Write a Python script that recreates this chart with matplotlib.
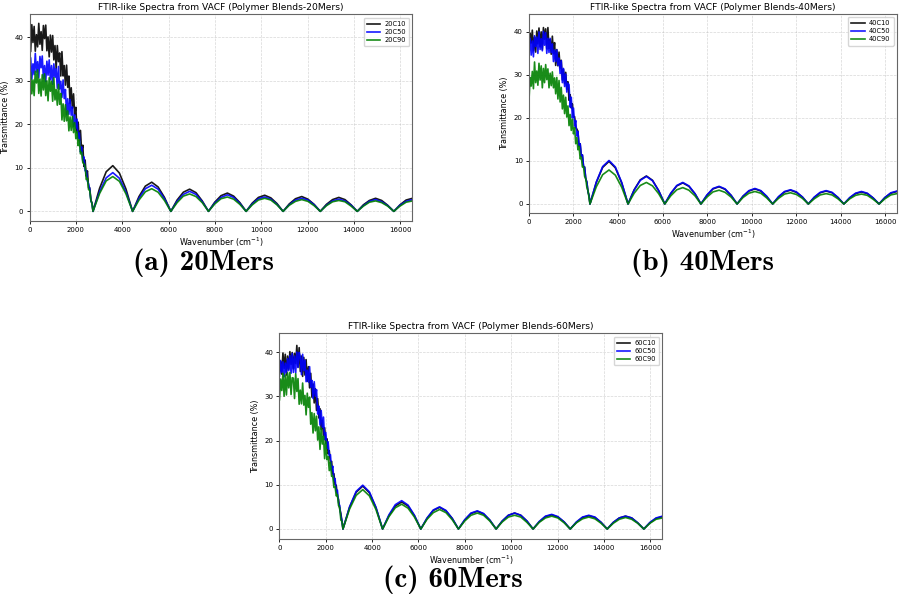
import numpy as np
import matplotlib
matplotlib.use("Agg")
import matplotlib.pyplot as plt

# wavenumber grid: noisy low-frequency part, then the lobes
wn_low = list(range(0, 2701, 50))
wn_lobes = [2740, 3025, 3310, 3595, 3880, 4165, 4450, 4725, 5000, 5275, 5550, 5825,
            6100, 6370, 6640, 6910, 7185, 7455, 7725, 7995, 8265, 8540, 8810, 9080,
            9350, 9615, 9880, 10150, 10415, 10680, 10945, 11210, 11480, 11750, 12015, 12285,
            12550, 12815, 13080, 13350, 13615, 13880, 14145, 14410, 14670, 14935, 15200, 15460,
            15725, 15990, 16255, 16530]

# 20Mers
t20c10_low = [41.4, 36.7, 42.9, 38.8, 42.5, 36.8, 40.6, 37.8, 43.2, 38.4, 41.3, 37.0, 42.7, 39.7,
              42.8, 36.9, 40.1, 35.5, 40.5, 36.6, 40.4, 34.8, 38.1, 32.8, 38.1, 34.4, 36.4, 31.1,
              36.7, 31.1, 33.5, 29.0, 33.6, 28.5, 31.1, 24.8, 28.4, 23.7, 27.0, 22.2, 23.9, 18.0,
              20.5, 16.2, 18.6, 13.7, 15.2, 10.3, 11.8, 8.1, 9.3, 5.4, 5.4, 2.6, 1.9]
t20c10_lobes = [0, 5.3, 9.1, 10.5, 8.8, 5.1, 0, 3.4, 5.8, 6.7, 5.6, 3.2, 0, 2.6, 4.4, 5.1, 4.3, 2.4,
                0, 2.1, 3.6, 4.2, 3.5, 2.0, 0, 1.9, 3.2, 3.7, 3.1, 1.8, 0, 1.7, 2.9, 3.4, 2.8, 1.6,
                0, 1.6, 2.7, 3.2, 2.7, 1.5, 0, 1.5, 2.5, 3.0, 2.5, 1.4, 0, 1.5, 2.6, 3.0]
t20c50_low = [32.2, 35.3, 30.4, 33.9, 31.4, 36.3, 32.0, 34.4, 30.7, 35.6, 33.0, 35.7, 30.6, 33.5,
              29.8, 34.5, 31.3, 34.8, 30.2, 33.5, 29.2, 33.9, 30.8, 32.8, 28.3, 33.3, 28.1, 29.9,
              26.2, 30.2, 25.9, 28.0, 22.2, 25.9, 22.3, 25.7, 22.1, 24.0, 19.5, 22.2, 19.1, 21.2,
              16.8, 18.0, 13.6, 14.8, 11.6, 12.5, 9.3, 9.4, 6.9, 6.3, 5.1, 2.4, 1.8]
t20c50_lobes = [0, 4.5, 7.7, 8.9, 7.6, 4.4, 0, 3.0, 5.2, 6.0, 5.1, 2.9, 0, 2.3, 3.9, 4.6, 3.9, 2.2,
                0, 1.9, 3.2, 3.8, 3.2, 1.8, 0, 1.7, 2.9, 3.3, 2.8, 1.6, 0, 1.5, 2.6, 3.0, 2.6, 1.5,
                0, 1.4, 2.4, 2.8, 2.4, 1.4, 0, 1.3, 2.3, 2.7, 2.2, 1.3, 0, 1.4, 2.3, 2.7]
t20c90_low = [27.4, 32.0, 27.0, 30.2, 26.6, 32.2, 29.5, 32.5, 27.1, 30.4, 26.5, 31.4, 27.9, 31.6,
              26.6, 30.0, 25.4, 30.7, 27.6, 29.9, 25.3, 30.7, 25.6, 28.0, 24.4, 29.2, 24.6, 27.1,
              21.0, 24.7, 20.7, 24.5, 20.8, 23.1, 18.5, 21.7, 18.6, 21.8, 18.1, 20.4, 16.7, 18.3,
              15.1, 16.4, 13.2, 13.6, 11.2, 10.9, 10.3, 7.3, 7.6, 5.0, 4.8, 2.5, 1.7]
t20c90_lobes = [0, 4.1, 7.0, 8.0, 6.9, 4.0, 0, 2.6, 4.5, 5.2, 4.4, 2.5, 0, 2.0, 3.5, 4.0, 3.4, 2.0,
                0, 1.7, 2.9, 3.3, 2.8, 1.6, 0, 1.5, 2.6, 3.0, 2.6, 1.5, 0, 1.4, 2.3, 2.7, 2.3, 1.3,
                0, 1.3, 2.2, 2.5, 2.2, 1.2, 0, 1.2, 2.1, 2.4, 2.0, 1.2, 0, 1.2, 2.1, 2.4]

# 40Mers
t40c10_low = [34.5, 39.7, 37.4, 40.4, 35.6, 38.8, 35.3, 40.2, 37.2, 40.9, 36.5, 40.0, 35.9, 41.0,
              38.3, 40.7, 36.1, 41.0, 36.1, 38.2, 34.8, 39.0, 34.9, 37.5, 32.2, 35.9, 32.1, 35.3,
              31.6, 33.4, 28.8, 31.3, 28.0, 30.6, 26.7, 28.4, 24.1, 25.4, 22.3, 23.3, 20.2, 20.3,
              17.8, 17.4, 16.9, 13.4, 14.0, 11.1, 11.4, 8.7, 8.6, 5.8, 5.1, 2.9, 1.9]
t40c10_lobes = [0, 5.0, 8.5, 9.9, 8.4, 4.9, 0, 3.3, 5.6, 6.5, 5.5, 3.1, 0, 2.4, 4.2, 4.9, 4.1, 2.4,
                0, 2.0, 3.5, 4.0, 3.4, 2.0, 0, 1.8, 3.0, 3.5, 3.0, 1.7, 0, 1.6, 2.8, 3.2, 2.7, 1.6,
                0, 1.5, 2.6, 3.0, 2.6, 1.5, 0, 1.4, 2.4, 2.8, 2.4, 1.4, 0, 1.5, 2.5, 2.9]
t40c50_low = [35.0, 38.5, 34.6, 37.9, 34.2, 39.1, 36.6, 38.8, 35.0, 40.0, 35.9, 38.4, 35.6, 40.1,
              36.9, 39.8, 35.0, 38.5, 35.2, 38.5, 35.2, 37.2, 33.1, 35.8, 33.1, 35.8, 32.3, 33.9,
              30.3, 33.3, 28.2, 31.5, 27.3, 30.2, 26.0, 28.1, 27.7, 22.5, 24.8, 20.0, 22.3, 18.1,
              19.4, 15.8, 16.8, 13.5, 14.0, 11.1, 11.4, 8.8, 8.5, 5.9, 5.1, 2.9, 1.9]
t40c50_lobes = [0, 5.1, 8.7, 10.1, 8.6, 5.0, 0, 3.2, 5.5, 6.4, 5.4, 3.1, 0, 2.5, 4.3, 5.0, 4.2, 2.4,
                0, 2.1, 3.6, 4.1, 3.5, 2.0, 0, 1.8, 3.1, 3.6, 3.1, 1.8, 0, 1.7, 2.9, 3.3, 2.8, 1.6,
                0, 1.6, 2.7, 3.1, 2.7, 1.5, 0, 1.5, 2.5, 2.9, 2.5, 1.4, 0, 1.5, 2.6, 3.0]
t40c90_low = [24.0, 29.4, 27.4, 30.8, 26.8, 33.0, 28.2, 30.9, 27.6, 32.7, 28.8, 32.1, 27.0, 31.5,
              28.2, 32.4, 28.9, 31.4, 27.0, 30.4, 27.5, 30.7, 27.0, 29.3, 25.6, 29.4, 24.4, 28.7,
              23.7, 27.1, 22.1, 25.3, 21.0, 24.8, 20.2, 22.8, 18.2, 20.8, 17.1, 19.7, 16.3, 17.7,
              14.0, 15.4, 12.6, 13.4, 10.5, 10.9, 8.6, 8.7, 6.4, 5.9, 3.9, 3.1, 1.4]
t40c90_lobes = [0, 4.0, 6.8, 7.9, 6.7, 3.9, 0, 2.5, 4.3, 5.0, 4.2, 2.4, 0, 1.9, 3.3, 3.8, 3.2, 1.9,
                0, 1.6, 2.8, 3.2, 2.7, 1.6, 0, 1.5, 2.5, 2.9, 2.5, 1.4, 0, 1.3, 2.3, 2.6, 2.2, 1.3,
                0, 1.2, 2.1, 2.4, 2.1, 1.2, 0, 1.2, 2.0, 2.3, 2.0, 1.1, 0, 1.2, 2.1, 2.4]

# 60Mers
t60c10_low = [35.3, 37.9, 35.0, 39.8, 36.3, 39.5, 34.8, 39.1, 36.1, 40.1, 37.2, 39.9, 36.2, 39.7,
              37.4, 41.5, 36.6, 41.0, 35.6, 39.1, 34.5, 38.8, 34.8, 38.3, 33.4, 36.7, 31.9, 35.2,
              29.8, 32.8, 28.5, 31.7, 26.8, 29.5, 25.1, 27.2, 22.5, 24.6, 21.1, 22.9, 19.4, 20.4,
              17.0, 17.7, 14.9, 15.3, 12.4, 12.5, 10.0, 9.9, 7.4, 6.7, 4.5, 3.5, 1.6]
t60c10_lobes = [0, 4.9, 8.3, 9.7, 8.2, 4.8, 0, 3.0, 5.2, 6.1, 5.2, 3.0, 0, 2.4, 4.2, 4.9, 4.1, 2.4,
                0, 2.0, 3.5, 4.0, 3.4, 2.0, 0, 1.8, 3.1, 3.6, 3.1, 1.8, 0, 1.6, 2.8, 3.2, 2.7, 1.6,
                0, 1.5, 2.6, 3.0, 2.6, 1.5, 0, 1.5, 2.5, 2.9, 2.5, 1.4, 0, 1.4, 2.4, 2.8]
t60c50_low = [34.5, 38.1, 35.4, 37.8, 34.4, 37.5, 35.3, 38.5, 35.8, 39.2, 35.2, 39.7, 35.4, 39.1,
              35.3, 40.0, 36.5, 39.9, 38.9, 34.9, 39.5, 35.8, 38.2, 33.3, 35.9, 33.2, 36.7, 32.1,
              33.6, 29.5, 33.3, 30.0, 31.5, 26.0, 27.8, 23.5, 26.8, 23.0, 25.3, 20.2, 21.8, 18.2,
              19.7, 16.6, 16.8, 13.2, 14.2, 10.9, 11.4, 8.5, 8.8, 5.9, 5.3, 2.9, 1.9]
t60c50_lobes = [0, 5.0, 8.5, 9.9, 8.4, 4.9, 0, 3.2, 5.5, 6.4, 5.4, 3.1, 0, 2.5, 4.3, 5.0, 4.2, 2.4,
                0, 2.1, 3.6, 4.1, 3.5, 2.0, 0, 1.8, 3.1, 3.6, 3.1, 1.8, 0, 1.7, 2.9, 3.3, 2.8, 1.6,
                0, 1.6, 2.7, 3.1, 2.7, 1.5, 0, 1.5, 2.5, 2.9, 2.5, 1.4, 0, 1.5, 2.5, 2.9]
t60c90_low = [29.2, 33.9, 31.3, 35.2, 30.0, 34.8, 30.3, 35.3, 31.9, 35.4, 30.4, 34.2, 34.1, 29.5,
              35.1, 31.1, 34.0, 28.2, 31.4, 28.3, 33.0, 28.0, 30.2, 25.8, 30.7, 27.5, 29.8, 23.7,
              26.3, 21.7, 26.1, 22.2, 25.5, 20.1, 23.1, 18.0, 22.8, 19.2, 21.0, 15.9, 19.8, 15.7,
              16.4, 13.2, 15.1, 11.9, 12.0, 9.4, 9.6, 7.5, 7.8, 5.3, 4.8, 2.0, 1.7]
t60c90_lobes = [0, 4.5, 7.6, 8.9, 7.5, 4.4, 0, 2.8, 4.8, 5.6, 4.7, 2.7, 0, 2.2, 3.7, 4.4, 3.7, 2.1,
                0, 1.8, 3.1, 3.6, 3.1, 1.8, 0, 1.6, 2.7, 3.1, 2.7, 1.5, 0, 1.5, 2.5, 2.9, 2.5, 1.4,
                0, 1.4, 2.3, 2.7, 2.3, 1.3, 0, 1.3, 2.2, 2.6, 2.2, 1.3, 0, 1.3, 2.2, 2.5]

panels = [
    ("20Mers", ["20C10", "20C50", "20C90"],
     [t20c10_low + t20c10_lobes, t20c50_low + t20c50_lobes, t20c90_low + t20c90_lobes]),
    ("40Mers", ["40C10", "40C50", "40C90"],
     [t40c10_low + t40c10_lobes, t40c50_low + t40c50_lobes, t40c90_low + t40c90_lobes]),
    ("60Mers", ["60C10", "60C50", "60C90"],
     [t60c10_low + t60c10_lobes, t60c50_low + t60c50_lobes, t60c90_low + t60c90_lobes]),
]
captions = ["(a) 20Mers", "(b) 40Mers", "(c) 60Mers"]
colors = ["black", "blue", "green"]

wn = np.array(wn_low + wn_lobes)

fig = plt.figure(figsize=(9.05, 6.0), dpi=100)
rects = [[0.0326, 0.6318, 0.4232, 0.3445],
         [0.5845, 0.6450, 0.4066, 0.3320],
         [0.3088, 0.1025, 0.4232, 0.3417]]
ylims = [(-2.2, 45.3), (-2.1, 44.2), (-2.15, 44.2)]
cap_pos = [(0.2254, 0.562), (0.7757, 0.562), (0.5006, 0.034)]

for i, (name, labels, series) in enumerate(panels):
    ax = fig.add_axes(rects[i])
    for lab, vals, c in zip(labels, series, colors):
        ax.plot(wn, vals, color=c, lw=1.2, alpha=0.9, label=lab)
    ax.set_xlim(0, 16530)
    ax.set_ylim(*ylims[i])
    ax.set_xticks(range(0, 16001, 2000))
    ax.set_yticks([0, 10, 20, 30, 40])
    ax.grid(True, linestyle='--', lw=0.5, alpha=0.5)
    ax.tick_params(labelsize=5, length=2.5, width=0.6, pad=2)
    for sp in ax.spines.values():
        sp.set_linewidth(0.8)
        sp.set_color('0.4')
    ax.set_title("FTIR-like Spectra from VACF (Polymer Blends-%s)" % name, fontsize=6.6, pad=3)
    ax.set_xlabel("Wavenumber (cm$^{-1}$)", fontsize=5.8, labelpad=2)
    ax.set_ylabel("Transmittance (%)", fontsize=5.8, labelpad=3)
    ax.legend(loc='upper right', fontsize=4.8, handlelength=2.0, borderpad=0.5,
              labelspacing=0.3, handletextpad=0.6)
    fig.text(cap_pos[i][0], cap_pos[i][1], captions[i], ha='center', va='center',
             fontsize=21, family=['cmb10', 'DejaVu Serif'], fontweight='bold')

fig.savefig("out.png", dpi=100)
